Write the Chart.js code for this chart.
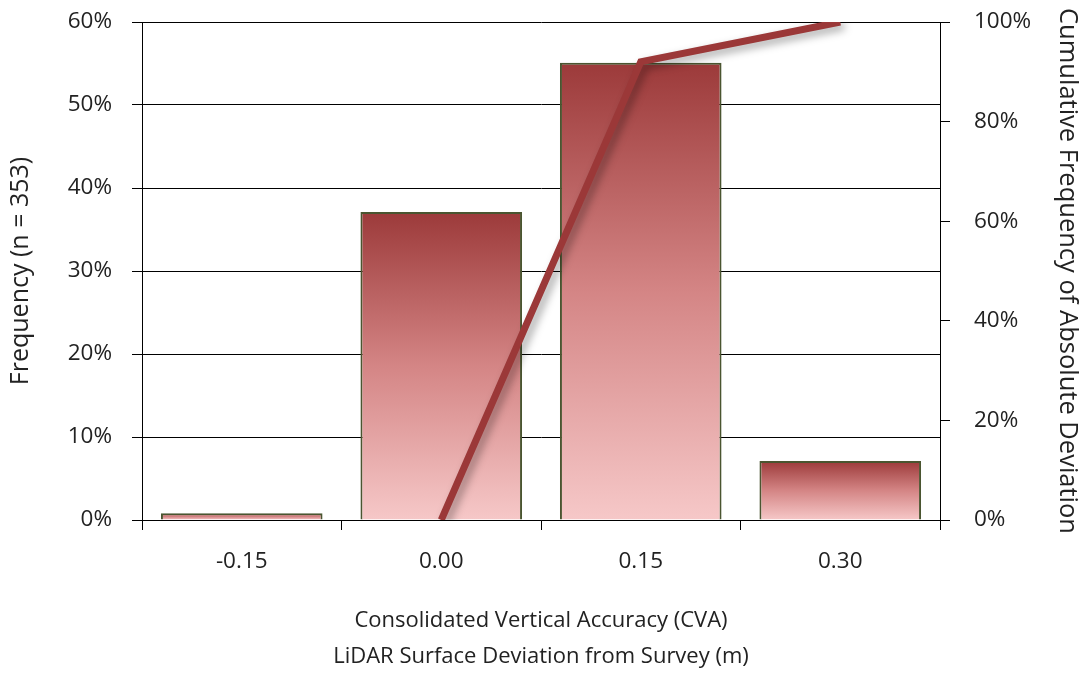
<!DOCTYPE html>
<html>
<head>
<meta charset="utf-8">
<script src="https://cdn.jsdelivr.net/npm/chart.js@4"></script>
<style>
  html, body { margin: 0; padding: 0; background: #fff; }
  #wrap { width: 1089px; height: 675px; }
</style>
</head>
<body>
<div id="wrap"><canvas id="chart" width="1089" height="675"></canvas></div>
<script>
const categories = ['-0.15', '0.00', '0.15', '0.30']
const frequency = [0.8, 37.1, 55.1, 7.1]
const cumulative = [null, 0, 92, 100]
const leftTicks = [0, 10, 20, 30, 40, 50, 60]
const rightTicks = [0, 20, 40, 60, 80, 100]

const FONT = '"Open Sans", "Noto Sans", sans-serif'

var barGradient = function (context) {
    var chart = context.chart
    var y = chart.scales && chart.scales.y
    if (!y || context.dataIndex === undefined) return '#d88a8a'
    var top = y.getPixelForValue(frequency[context.dataIndex])
    var bottom = y.getPixelForValue(0)
    if (!isFinite(top) || bottom - top < 1) return '#b04e4e'
    var g = chart.ctx.createLinearGradient(0, top, 0, bottom)
    g.addColorStop(0, '#9c3a3a')
    g.addColorStop(0.5, '#d48585')
    g.addColorStop(1, '#f6c8c8')
    return g
}

const lineShadow = {
    id: 'lineShadow',
    beforeDatasetDraw(chart, args) {
        if (args.index === 1) {
            chart.ctx.save()
            chart.ctx.shadowColor = 'rgba(0,0,0,0.35)'
            chart.ctx.shadowBlur = 8
            chart.ctx.shadowOffsetX = 4
            chart.ctx.shadowOffsetY = 4
        }
    },
    afterDatasetDraw(chart, args) {
        if (args.index === 1) chart.ctx.restore()
    }
}

// fixed axis sizes so the plot area lands where the original one is
var fitY = function (w) {
    return function (axis) {
        axis.width = w
        axis.paddingTop = 0
        axis.paddingBottom = 0
    }
}

new Chart(document.getElementById('chart'), {
    type: 'bar',
    data: {
        labels: categories,
        datasets: [{
            type: 'bar',
            data: frequency,
            yAxisID: 'y',
            backgroundColor: barGradient,
            borderColor: '#4a5530',
            borderWidth: 2,
            barPercentage: 0.81,
            categoryPercentage: 1,
            order: 2
        }, {
            type: 'line',
            data: cumulative,
            yAxisID: 'y2',
            borderColor: '#9b3838',
            borderWidth: 7,
            pointRadius: 0,
            tension: 0,
            spanGaps: false,
            order: 1
        }]
    },
    options: {
        responsive: false,
        animation: false,
        layout: { padding: { left: 0, right: 0, top: 22, bottom: 0 } },
        plugins: {
            legend: { display: false },
            tooltip: { enabled: false }
        },
        scales: {
            x: {
                offset: true,
                afterFit: function (axis) { axis.height = 155 },
                grid: {
                    offset: true,
                    drawOnChartArea: false,
                    drawTicks: true,
                    tickLength: 10,
                    color: '#000'
                },
                border: { display: true, color: '#000', width: 1 },
                ticks: { color: '#222', font: { family: FONT, size: 22.5 }, padding: 18 },
                title: {
                    display: true,
                    text: ['Consolidated Vertical Accuracy (CVA)', 'LiDAR Surface Deviation from Survey (m)'],
                    color: '#222',
                    font: { family: FONT, size: 22, lineHeight: 1.65 },
                    padding: { top: 0, bottom: 0 }
                }
            },
            y: {
                position: 'left',
                min: 0,
                max: 60,
                afterFit: fitY(142),
                afterBuildTicks: function (axis) { axis.ticks = leftTicks.map(v => ({ value: v })) },
                grid: { color: '#000', tickLength: 10, drawTicks: true },
                border: { display: true, color: '#000' },
                ticks: {
                    color: '#222',
                    font: { family: FONT, size: 22.5 },
                    padding: 20,
                    callback: v => v + '%'
                },
                title: {
                    display: true,
                    text: 'Frequency (n = 353)',
                    color: '#222',
                    font: { family: FONT, size: 25 },
                    padding: { top: 6, bottom: 0 }
                }
            },
            y2: {
                position: 'right',
                min: 0,
                max: 100,
                afterFit: fitY(149),
                afterBuildTicks: function (axis) { axis.ticks = rightTicks.map(v => ({ value: v })) },
                grid: { drawOnChartArea: false, color: '#000', tickLength: 10 },
                border: { display: true, color: '#000' },
                ticks: {
                    color: '#222',
                    font: { family: FONT, size: 22.5 },
                    padding: 24,
                    callback: v => v + '%'
                },
                title: {
                    display: true,
                    text: 'Cumulative Frequency of Absolute Deviation',
                    color: '#222',
                    font: { family: FONT, size: 25.5 },
                    padding: { top: 6, bottom: 0 }
                }
            }
        }
    },
    plugins: [lineShadow]
})
</script>
</body>
</html>
